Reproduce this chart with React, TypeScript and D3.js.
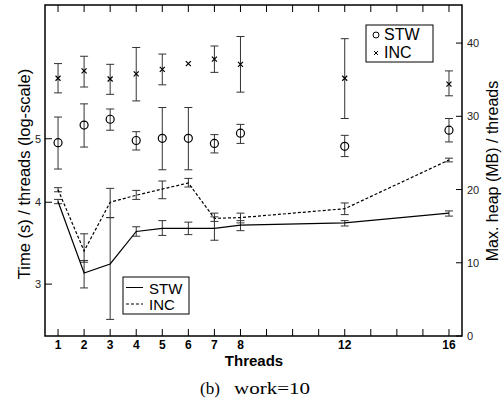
import { useEffect, useRef } from "react";
import * as d3 from "d3";

const threads = [1, 2, 3, 4, 5, 6, 7, 8, 12, 16];
const xTickLabels = [1, 2, 3, 4, 5, 6, 7, 8, 12, 16];

// time per thread (s), log axis on the left
const stwTime = [4.01, 3.12, 3.22, 3.61, 3.65, 3.65, 3.65, 3.69, 3.72, 3.85];
const stwTimeLo = [3.98, 2.96, 2.65, 3.55, 3.56, 3.57, 3.5, 3.62, 3.68, 3.81];
const stwTimeHi = [4.04, 3.26, 3.79, 3.67, 3.75, 3.73, 3.8, 3.75, 3.75, 3.88];
const incTime = [4.18, 3.37, 4.0, 4.1, 4.19, 4.28, 3.78, 3.79, 3.91, 4.64];
const incTimeLo = [4.15, 3.24, 3.79, 4.04, 4.05, 4.22, 3.74, 3.72, 3.83, 4.61];
const incTimeHi = [4.21, 3.58, 4.2, 4.17, 4.31, 4.35, 3.85, 3.85, 3.99, 4.67];

// max heap per thread (MB), linear axis on the right
const stwHeap = [26.4, 28.8, 29.6, 26.7, 27.0, 27.0, 26.3, 27.7, 25.9, 28.1];
const stwHeapLo = [22.8, 25.8, 28.1, 25.4, 22.7, 22.7, 25.0, 26.3, 24.5, 26.5];
const stwHeapHi = [29.9, 31.7, 31.0, 27.9, 31.2, 31.2, 27.5, 28.9, 27.4, 29.7];
const incHeap = [35.2, 36.2, 35.1, 35.8, 36.4, 37.2, 37.8, 37.1, 35.2, 34.4];
const incHeapLo = [33.2, 34.0, 33.0, 32.1, 34.3, null, 36.0, 33.3, 29.7, 32.8];
const incHeapHi = [37.2, 38.2, 37.1, 39.4, 38.5, null, 39.6, 40.9, 40.6, 36.2];

const leftTicks = [3, 4, 5];
const rightTicks = [0, 10, 20, 30, 40];

export default function App() {
  const ref = useRef<SVGSVGElement>(null);

  useEffect(() => {
    document.body.style.margin = "0";
    const svg = d3.select(ref.current);
    svg.selectAll("*").remove();

    const left = 45,
      right = 462,
      top = 5,
      bottom = 336;
    const font = "'Liberation Sans', Arial, Helvetica, sans-serif";
    const serif = "'Liberation Serif', 'Times New Roman', serif";

    const x = d3.scaleLinear().domain([0.5, 16.5]).range([left, right]);
    const yL = d3.scaleLog().domain([2.5, 8]).range([bottom, top]);
    const yR = d3.scaleLinear().domain([0, 45.2]).range([bottom, top]);

    const g = svg.append("g");

    // ticks (inward) on all sides
    const allX = d3.range(1, 17);
    g.selectAll(".xt")
      .data(allX)
      .enter()
      .append("line")
      .attr("x1", (d) => x(d))
      .attr("x2", (d) => x(d))
      .attr("y1", bottom)
      .attr("y2", bottom - 7)
      .attr("stroke", "#000");
    g.selectAll(".xtt")
      .data(allX)
      .enter()
      .append("line")
      .attr("x1", (d) => x(d))
      .attr("x2", (d) => x(d))
      .attr("y1", top)
      .attr("y2", top + 7)
      .attr("stroke", "#000");
    g.selectAll(".xl")
      .data(xTickLabels)
      .enter()
      .append("text")
      .attr("x", (d) => x(d))
      .attr("y", 349)
      .attr("text-anchor", "middle")
      .attr("font-family", font)
      .attr("font-weight", "bold")
      .attr("font-size", 12)
      .text((d) => d);

    g.selectAll(".lt")
      .data(leftTicks)
      .enter()
      .append("line")
      .attr("x1", left)
      .attr("x2", left + 7)
      .attr("y1", (d) => yL(d))
      .attr("y2", (d) => yL(d))
      .attr("stroke", "#000");
    g.selectAll(".ll")
      .data(leftTicks)
      .enter()
      .append("text")
      .attr("x", left - 4)
      .attr("y", (d) => yL(d) + 4)
      .attr("text-anchor", "end")
      .attr("font-family", font)
      .attr("font-size", 11)
      .attr("fill", "#222")
      .text((d) => d);

    g.selectAll(".rt")
      .data(rightTicks)
      .enter()
      .append("line")
      .attr("x1", right)
      .attr("x2", right - 6)
      .attr("y1", (d) => yR(d))
      .attr("y2", (d) => yR(d))
      .attr("stroke", "#000");
    g.selectAll(".rl")
      .data(rightTicks)
      .enter()
      .append("text")
      .attr("x", right + 5)
      .attr("y", (d) => yR(d) + 4)
      .attr("font-family", font)
      .attr("font-size", 11)
      .attr("fill", "#222")
      .text((d) => d);

    // error bars helper
    function errBars(lo, hi, y, cap) {
      const rows = threads
        .map((t, i) => ({ t: t, lo: lo[i], hi: hi[i] }))
        .filter((d) => d.lo != null);
      const eb = g.append("g").attr("stroke", "#333").attr("stroke-width", 1);
      rows.forEach(function (d) {
        eb.append("line")
          .attr("x1", x(d.t))
          .attr("x2", x(d.t))
          .attr("y1", y(d.lo))
          .attr("y2", y(d.hi));
        [d.lo, d.hi].forEach(function (v) {
          eb.append("line")
            .attr("x1", x(d.t) - cap)
            .attr("x2", x(d.t) + cap)
            .attr("y1", y(v))
            .attr("y2", y(v));
        });
      });
    }

    errBars(stwTimeLo, stwTimeHi, yL, 4);
    errBars(incTimeLo, incTimeHi, yL, 4);
    errBars(stwHeapLo, stwHeapHi, yR, 4);
    errBars(incHeapLo, incHeapHi, yR, 4);

    // lines
    const line = (vals) =>
      d3
        .line<number>()
        .x((d, i) => x(threads[i]))
        .y((d) => yL(d))(vals);
    g.append("path")
      .attr("d", line(stwTime))
      .attr("fill", "none")
      .attr("stroke", "#000")
      .attr("stroke-width", 1.2);
    g.append("path")
      .attr("d", line(incTime))
      .attr("fill", "none")
      .attr("stroke", "#000")
      .attr("stroke-width", 1.2)
      .attr("stroke-dasharray", "3,2");

    // markers
    g.selectAll(".circ")
      .data(stwHeap)
      .enter()
      .append("circle")
      .attr("cx", (d, i) => x(threads[i]))
      .attr("cy", (d) => yR(d))
      .attr("r", 4)
      .attr("fill", "none")
      .attr("stroke", "#000")
      .attr("stroke-width", 1.2);
    const cross = d3.symbol().type(d3.symbolX).size(18);
    g.selectAll(".cross")
      .data(incHeap)
      .enter()
      .append("path")
      .attr("d", cross)
      .attr("transform", (d, i) => "translate(" + x(threads[i]) + "," + yR(d) + ")")
      .attr("fill", "none")
      .attr("stroke", "#000")
      .attr("stroke-width", 1.2);

    // frame
    g.append("rect")
      .attr("x", left)
      .attr("y", top)
      .attr("width", right - left)
      .attr("height", bottom - top)
      .attr("fill", "none")
      .attr("stroke", "#000")
      .attr("stroke-width", 1.5);

    // legend: markers
    const lg1 = g.append("g");
    lg1.append("rect")
      .attr("x", 366)
      .attr("y", 25)
      .attr("width", 67)
      .attr("height", 37)
      .attr("fill", "#fff")
      .attr("stroke", "#000");
    lg1.append("circle")
      .attr("cx", 376)
      .attr("cy", 35)
      .attr("r", 3)
      .attr("fill", "none")
      .attr("stroke", "#000");
    lg1.append("path")
      .attr("d", d3.symbol().type(d3.symbolX).size(12)())
      .attr("transform", "translate(376,53)")
      .attr("stroke", "#000");
    lg1.append("text").attr("x", 384).attr("y", 40).text("STW");
    lg1.append("text").attr("x", 384).attr("y", 58).text("INC");
    lg1.selectAll("text").attr("font-family", font).attr("font-size", 16);

    // legend: lines
    const lg2 = g.append("g");
    lg2.append("rect")
      .attr("x", 123)
      .attr("y", 277)
      .attr("width", 66)
      .attr("height", 37)
      .attr("fill", "#fff")
      .attr("stroke", "#000");
    lg2.append("line")
      .attr("x1", 126)
      .attr("x2", 143)
      .attr("y1", 287.5)
      .attr("y2", 287.5)
      .attr("stroke", "#000");
    lg2.append("line")
      .attr("x1", 126)
      .attr("x2", 143)
      .attr("y1", 304)
      .attr("y2", 304)
      .attr("stroke", "#000")
      .attr("stroke-dasharray", "3,2");
    lg2.append("text").attr("x", 149).attr("y", 293.5).text("STW");
    lg2.append("text").attr("x", 149).attr("y", 310).text("INC");
    lg2.selectAll("text").attr("font-family", font).attr("font-size", 15);

    // axis titles
    g.append("text")
      .attr("transform", "translate(30,174) rotate(-90)")
      .attr("text-anchor", "middle")
      .attr("font-family", font)
      .attr("font-size", 16.5)
      .text("Time (s) / threads (log-scale)");
    g.append("text")
      .attr("transform", "translate(498,171) rotate(-90)")
      .attr("text-anchor", "middle")
      .attr("font-family", font)
      .attr("font-size", 16)
      .text("Max. heap (MB) / threads");
    g.append("text")
      .attr("x", 254)
      .attr("y", 366)
      .attr("text-anchor", "middle")
      .attr("font-family", font)
      .attr("font-weight", "bold")
      .attr("font-size", 15)
      .text("Threads");

    // caption
    g.append("text")
      .attr("x", 200)
      .attr("y", 394)
      .attr("font-family", serif)
      .attr("font-size", 17)
      .text("(b)");
    g.append("text")
      .attr("x", 234)
      .attr("y", 394)
      .attr("font-family", serif)
      .attr("font-size", 17)
      .attr("textLength", 76)
      .attr("lengthAdjust", "spacingAndGlyphs")
      .text("work=10");
  }, []);

  return <svg ref={ref} width={504} height={402} style={{ display: "block" }}></svg>;
}
